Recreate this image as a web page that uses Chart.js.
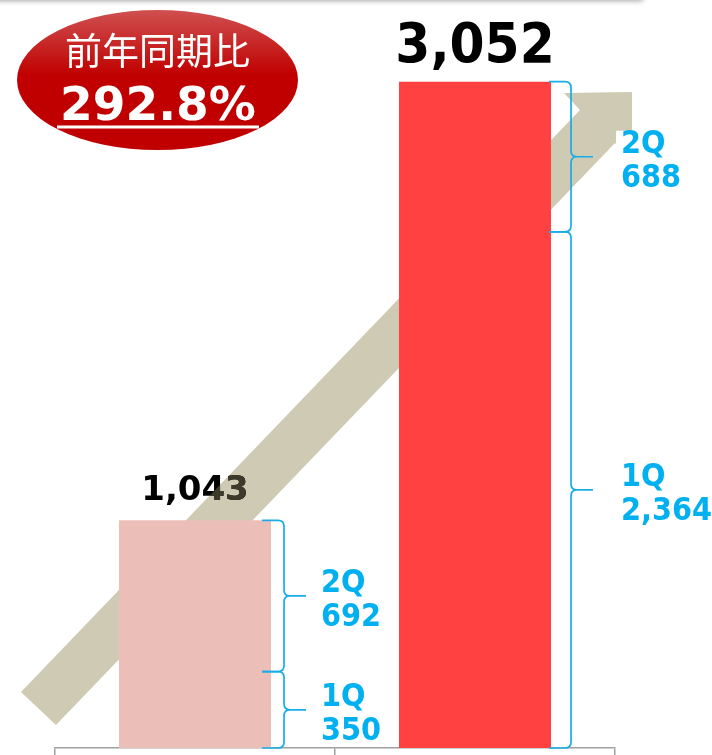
<!DOCTYPE html>
<html>
<head>
<meta charset="utf-8">
<style>
  html, body { margin: 0; padding: 0; background: #fff; }
  #chart { display: block; }
</style>
<script src="https://cdn.jsdelivr.net/npm/chart.js@4/dist/chart.umd.min.js"></script>
</head>
<body>
<canvas id="chart" width="712" height="755"></canvas>
<script>
// Data.
var categories = ["前年同期", "当期"];
var totals = [1043, 3052];
var q1Values = [350, 2364];
var q2Values = [692, 688];
var quarterNames = ["1Q", "2Q"];
var ratioTitle = "前年同期比";
var ratioValue = "292.8%";

// Styles.
var barColors = ["#ECBEB8", "#FF4141"];
var totalFonts = ["bold 34px 'DejaVu Sans'", "bold 56px 'DejaVu Sans Condensed', 'DejaVu Sans'"];
var braceOffset = [13, 20];
var labelGap = [15, 28];
var labelFont = "bold 32px 'DejaVu Sans Condensed', 'DejaVu Sans'";
var cyan = "#00B0F0";
var braceColor = "#18ADE8";
var arrowColor = "#CFCAB3";

function fmt(v) {
    return v.toLocaleString("en-US");
}

// Big arrow running behind the bars.
function arrowPath(ctx) {
    ctx.beginPath();
    ctx.moveTo(21, 692);
    ctx.lineTo(580, 110);
    ctx.lineTo(564, 93);
    ctx.lineTo(632, 92);
    ctx.lineTo(632, 160);
    ctx.lineTo(615, 143);
    ctx.lineTo(56, 725);
    ctx.closePath();
}

function drawBrace(ctx, x0, xv, xt, yTop, yBot) {
    var ym = (yTop + yBot) / 2;
    var r = 6;
    ctx.beginPath();
    ctx.moveTo(x0, yTop);
    ctx.lineTo(xv - r, yTop);
    ctx.quadraticCurveTo(xv, yTop, xv, yTop + r);
    ctx.lineTo(xv, ym - r);
    ctx.quadraticCurveTo(xv, ym, xv + r, ym);
    ctx.lineTo(xt, ym);
    ctx.moveTo(xv + r, ym);
    ctx.quadraticCurveTo(xv, ym, xv, ym + r);
    ctx.lineTo(xv, yBot - r);
    ctx.quadraticCurveTo(xv, yBot, xv - r, yBot);
    ctx.lineTo(x0, yBot);
    ctx.stroke();
}

var decorPlugin = {
    id: "decor",
    beforeDraw: function(chart) {
        var ctx = chart.ctx;
        ctx.save();
        ctx.fillStyle = "#fff";
        ctx.fillRect(0, 0, chart.width, chart.height);
        // Shadowed box edge at the very top.
        ctx.shadowColor = "rgba(0, 0, 0, 0.35)";
        ctx.shadowBlur = 5;
        ctx.shadowOffsetY = 1;
        ctx.fillRect(-10, -30, 653, 30);
        ctx.restore();
    },
    beforeDatasetsDraw: function(chart) {
        var ctx = chart.ctx;
        ctx.save();
        arrowPath(ctx);
        ctx.fillStyle = arrowColor;
        ctx.fill();
        ctx.restore();
    },
    afterDatasetsDraw: function(chart) {
        var ctx = chart.ctx;
        var yScale = chart.scales.y;
        var bars = chart.getDatasetMeta(0).data;
        ctx.save();
        for (var i = 0; i < bars.length; ++i) {
            var p = bars[i].getProps(["x", "y", "width"], true);
            var right = p.x + p.width / 2;

            // Total above the bar, darker where the arrow passes behind it.
            ctx.font = totalFonts[i];
            ctx.textAlign = "center";
            ctx.textBaseline = "alphabetic";
            ctx.fillStyle = "#000";
            ctx.fillText(fmt(totals[i]), p.x, p.y - 20);
            ctx.save();
            arrowPath(ctx);
            ctx.clip();
            ctx.fillStyle = "#3E3A2B";
            ctx.fillText(fmt(totals[i]), p.x, p.y - 20);
            ctx.restore();

            // Quarter braces.
            var xv = right + braceOffset[i];
            var x0 = xv - 22;
            var xt = xv + 22;
            var y0 = yScale.getPixelForValue(0);
            var y1 = yScale.getPixelForValue(q1Values[i]);
            var y2 = p.y;
            ctx.strokeStyle = braceColor;
            ctx.lineWidth = 1.7;
            drawBrace(ctx, x0, xv, xt, y2, y1);
            drawBrace(ctx, x0, xv, xt, y1, y0);

            // Quarter labels in small white text boxes.
            var segs = [[y1, y0, quarterNames[0], q1Values[i]], [y2, y1, quarterNames[1], q2Values[i]]];
            ctx.font = labelFont;
            ctx.textAlign = "left";
            for (var k = 0; k < segs.length; ++k) {
                var ym = (segs[k][0] + segs[k][1]) / 2;
                var lx = xt + labelGap[i];
                var by = ym - 4;
                var w = Math.max(ctx.measureText(segs[k][2]).width, ctx.measureText(fmt(segs[k][3])).width);
                ctx.fillStyle = "#fff";
                ctx.fillRect(lx - 5, by - 22, w + 8, 58);
                ctx.fillStyle = cyan;
                ctx.fillText(segs[k][2], lx, by);
                ctx.fillText(fmt(segs[k][3]), lx, by + 34);
            }
        }
        ctx.restore();
    },
    afterDraw: function(chart) {
        var ctx = chart.ctx;
        ctx.save();
        // Red oval with the year-on-year ratio.
        var grad = ctx.createLinearGradient(0, 10, 0, 75);
        grad.addColorStop(0, "#D05050");
        grad.addColorStop(1, "#C00000");
        ctx.beginPath();
        ctx.ellipse(157.5, 80, 140.5, 70, 0, 0, Math.PI * 2);
        ctx.fillStyle = grad;
        ctx.fill();
        ctx.fillStyle = "#fff";
        ctx.textAlign = "center";
        ctx.textBaseline = "alphabetic";
        ctx.font = "37px 'Noto Sans CJK JP'";
        ctx.fillText(ratioTitle, 157.5, 65);
        ctx.font = "bold 47px 'DejaVu Sans'";
        ctx.fillText(ratioValue, 158, 120);
        ctx.fillRect(57, 125.5, 202, 3);
        ctx.restore();
    }
};

var config = {
    type: "bar",
    data: {
        labels: categories,
        datasets: [{
            data: totals,
            backgroundColor: barColors,
            borderWidth: 0,
            barPercentage: 0.543,
            categoryPercentage: 1
        }]
    },
    options: {
        responsive: false,
        animation: false,
        layout: { padding: { left: 55, right: 97, top: 0, bottom: 0 } },
        plugins: {
            legend: { display: false },
            tooltip: { enabled: false }
        },
        scales: {
            x: {
                grid: {
                    offset: true,
                    drawOnChartArea: false,
                    tickLength: 7,
                    color: "#A0A0A0",
                    lineWidth: 1.5
                },
                border: { color: "#A0A0A0", width: 1.5 },
                ticks: { display: false }
            },
            y: { display: false, min: 0, max: 3426 }
        }
    },
    plugins: [decorPlugin]
};

new Chart(document.getElementById("chart").getContext("2d"), config);
</script>
</body>
</html>
